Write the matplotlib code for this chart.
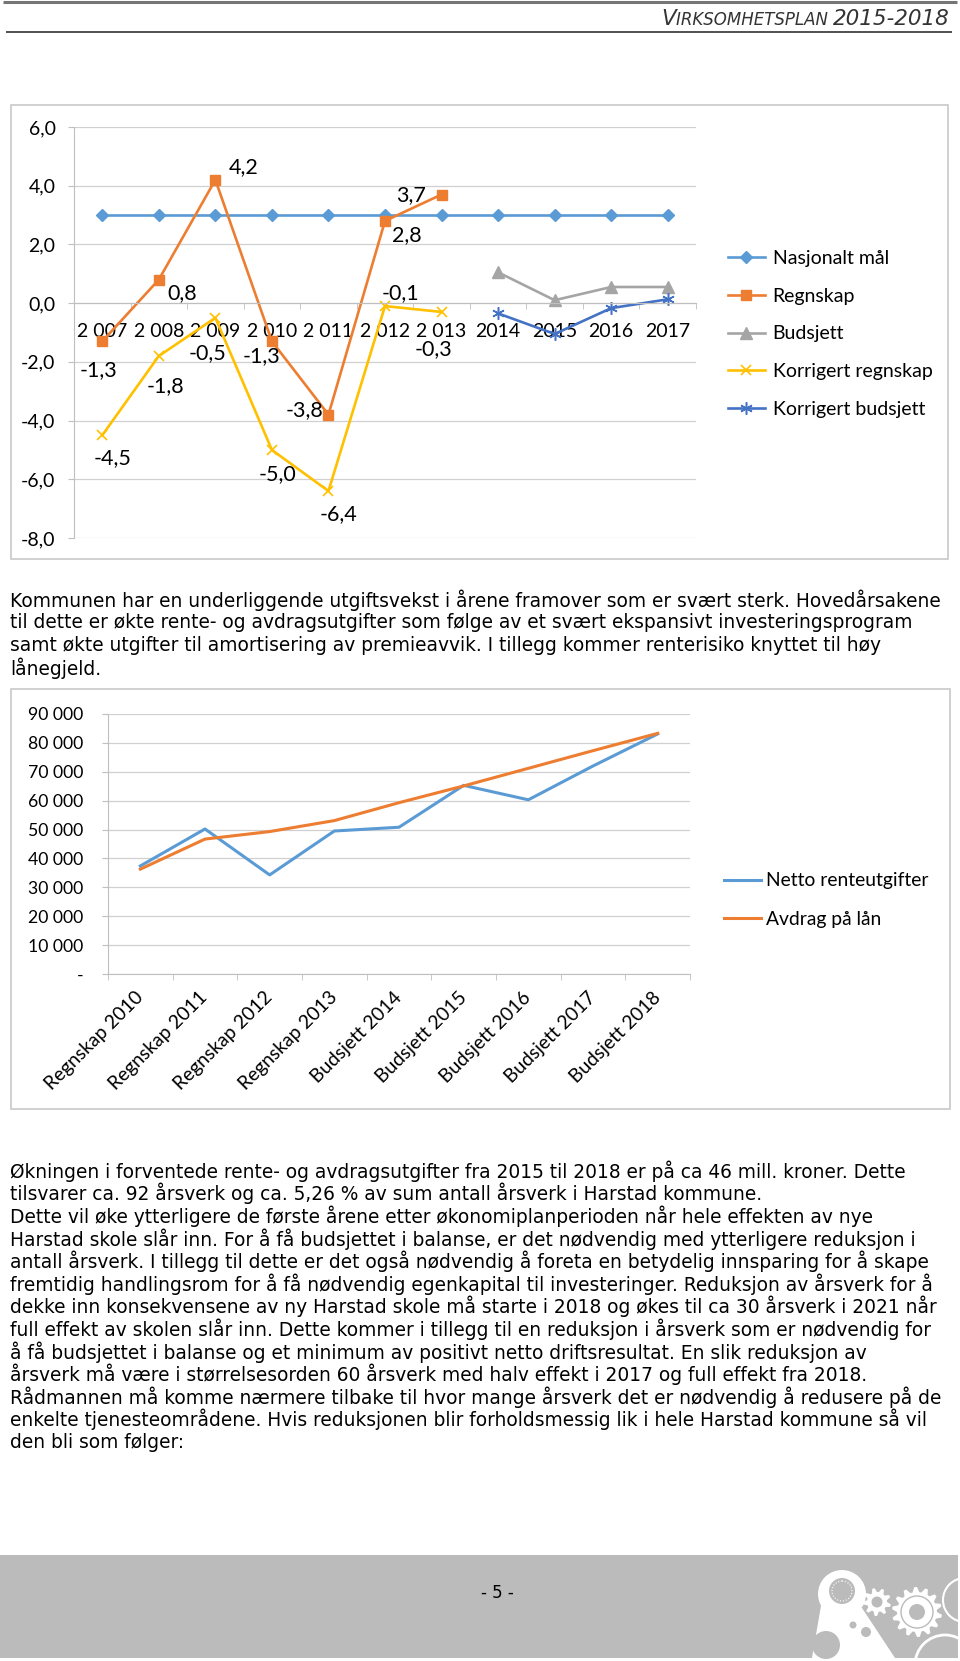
import numpy as np
import matplotlib.pyplot as plt
from matplotlib.patches import Rectangle, Circle, Polygon

nan = np.nan
W, H = 960, 1661

# --- top chart data ---
years = ["2 007", "2 008", "2 009", "2 010", "2 011", "2 012", "2 013",
         "2014", "2015", "2016", "2017"]
nasjonalt_maal = [3.0, 3.0, 3.0, 3.0, 3.0, 3.0, 3.0, 3.0, 3.0, 3.0, 3.0]
regnskap = [-1.3, 0.8, 4.2, -1.3, -3.8, 2.8, 3.7, nan, nan, nan, nan]
budsjett = [nan, nan, nan, nan, nan, nan, nan, 1.05, 0.1, 0.55, 0.55]
korr_regnskap = [-4.5, -1.8, -0.5, -5.0, -6.4, -0.1, -0.3, nan, nan, nan, nan]
korr_budsjett = [nan, nan, nan, nan, nan, nan, nan, -0.35, -1.05, -0.17, 0.13]
y1_ticks = [-8, -6, -4, -2, 0, 2, 4, 6]
y1_labels = ["-8,0", "-6,0", "-4,0", "-2,0", "0,0", "2,0", "4,0", "6,0"]

# --- bottom chart data ---
periods = ["Regnskap 2010", "Regnskap 2011", "Regnskap 2012", "Regnskap 2013",
           "Budsjett 2014", "Budsjett 2015", "Budsjett 2016", "Budsjett 2017",
           "Budsjett 2018"]
netto_renteutgifter = [37400, 50200, 34300, 49500, 50800, 65300, 60300, 72000, 83100]
avdrag_paa_laan = [36300, 46700, 49300, 53100, 59300, 65100, 71200, 77300, 83300]
y2_ticks = [0, 10000, 20000, 30000, 40000, 50000, 60000, 70000, 80000, 90000]
y2_labels = ["-", "10 000", "20 000", "30 000", "40 000", "50 000",
             "60 000", "70 000", "80 000", "90 000"]

para1 = [
    "Kommunen har en underliggende utgiftsvekst i årene framover som er svært sterk. Hovedårsakene",
    "til dette er økte rente- og avdragsutgifter som følge av et svært ekspansivt investeringsprogram",
    "samt økte utgifter til amortisering av premieavvik. I tillegg kommer renterisiko knyttet til høy",
    "lånegjeld.",
]
para2 = [
    "Økningen i forventede rente- og avdragsutgifter fra 2015 til 2018 er på ca 46 mill. kroner. Dette",
    "tilsvarer ca. 92 årsverk og ca. 5,26 % av sum antall årsverk i Harstad kommune.",
    "Dette vil øke ytterligere de første årene etter økonomiplanperioden når hele effekten av nye",
    "Harstad skole slår inn. For å få budsjettet i balanse, er det nødvendig med ytterligere reduksjon i",
    "antall årsverk. I tillegg til dette er det også nødvendig å foreta en betydelig innsparing for å skape",
    "fremtidig handlingsrom for å få nødvendig egenkapital til investeringer. Reduksjon av årsverk for å",
    "dekke inn konsekvensene av ny Harstad skole må starte i 2018 og økes til ca 30 årsverk i 2021 når",
    "full effekt av skolen slår inn. Dette kommer i tillegg til en reduksjon i årsverk som er nødvendig for",
    "å få budsjettet i balanse og et minimum av positivt netto driftsresultat. En slik reduksjon av",
    "årsverk må være i størrelsesorden 60 årsverk med halv effekt i 2017 og full effekt fra 2018.",
    "Rådmannen må komme nærmere tilbake til hvor mange årsverk det er nødvendig å redusere på de",
    "enkelte tjenesteområdene. Hvis reduksjonen blir forholdsmessig lik i hele Harstad kommune så vil",
    "den bli som følger:",
]

BLUE, ORANGE, GRAY, YELLOW, DBLUE = "#5B9BD5", "#ED7D31", "#A5A5A5", "#FFC000", "#4472C4"
GRID = "#D0D0D0"
AXC = "#BFBFBF"
CHART_FONT = "Lato"

fig = plt.figure(figsize=(W / 100, H / 100), dpi=100)

# page layer in pixel coordinates
page = fig.add_axes([0, 0, 1, 1], zorder=0)
page.set_xlim(0, W)
page.set_ylim(H, 0)
page.axis("off")


def place(left, top, right, bottom):
    return fig.add_axes([left / W, 1 - bottom / H, (right - left) / W, (bottom - top) / H],
                        zorder=2, facecolor="none")


# header
page.plot([3, 957], [2, 2], color="#767676", lw=2.2, solid_capstyle="butt")
page.plot([6, 952], [32, 32], color="#505050", lw=1.4, solid_capstyle="butt")
rend = fig.canvas.get_renderer()
xr = 950
for s, size in [("2015-2018", 15.5), ("IRKSOMHETSPLAN ", 12), ("V", 15.5)]:
    t = page.text(xr, 25, s, ha="right", va="baseline", fontsize=size,
                  style="italic", color="#333333", family="DejaVu Sans")
    xr -= t.get_window_extent(rend).width

# chart frames
page.add_patch(Rectangle((11, 105), 937, 454, fill=False, ec="#C8C8C8", lw=1.2))
page.add_patch(Rectangle((11, 689), 939, 420, fill=False, ec="#C8C8C8", lw=1.2))

# paragraphs
for i, line in enumerate(para1):
    page.text(10, 600 + i * 22.6, line, fontsize=13.4, va="center", family="DejaVu Sans")
for i, line in enumerate(para2):
    page.text(10, 1171 + i * 22.6, line, fontsize=13.4, va="center", family="DejaVu Sans")

# ---- top chart ----
ax1 = place(74, 127, 696, 538)
for s in ["top", "right"]:
    ax1.spines[s].set_visible(False)
ax1.spines["left"].set_color(AXC)
ax1.spines["bottom"].set_color(AXC)
ax1.spines["bottom"].set_position(("data", 0))

x = np.arange(len(years))
ax1.plot(x, nasjonalt_maal, color=BLUE, lw=1.9, marker="D", ms=6.5, label="Nasjonalt mål")
ax1.plot(x, regnskap, color=ORANGE, lw=1.9, marker="s", ms=7.5, label="Regnskap")
ax1.plot(x, budsjett, color=GRAY, lw=1.9, marker="^", ms=8, label="Budsjett")
ax1.plot(x, korr_regnskap, color=YELLOW, lw=1.9, marker="x", ms=7, mew=1.2,
         label="Korrigert regnskap")
ax1.plot(x, korr_budsjett, color=DBLUE, lw=1.9, marker=(6, 2, 0), ms=9, mew=1.1,
         label="Korrigert budsjett")

reg_off = [(-4, -29), (23, -13), (28, 13), (-10, -15), (-24, 5), (22, -14), (-30, -1)]
kor_off = [(10, -23), (7, -30), (-8, -35), (6, -24), (10, -23), (15, 13), (-8, -37)]
for i, off in enumerate(reg_off):
    ax1.annotate(f"{regnskap[i]:.1f}".replace(".", ","), (x[i], regnskap[i]), xytext=off,
                 textcoords="offset pixels", ha="center", va="center", fontsize=15.5,
                 family=CHART_FONT)
for i, off in enumerate(kor_off):
    ax1.annotate(f"{korr_regnskap[i]:.1f}".replace(".", ","), (x[i], korr_regnskap[i]),
                 xytext=off, textcoords="offset pixels", ha="center", va="center",
                 fontsize=15.5, family=CHART_FONT)

ax1.set_xlim(-0.5, len(years) - 0.5)
ax1.set_ylim(-8, 6)
ax1.set_yticks(y1_ticks, y1_labels, fontsize=14, family=CHART_FONT)
ax1.set_xticks(x, years, fontsize=14, family=CHART_FONT)
ax1.set_xticks(np.arange(-0.5, len(years), 1), minor=True)
ax1.yaxis.grid(True, color=GRID, lw=0.9)
ax1.set_axisbelow(True)
ax1.tick_params(axis="x", which="major", length=0, pad=14)
ax1.tick_params(axis="x", which="minor", length=4.5, color=AXC)
ax1.tick_params(axis="y", length=4.3, color=AXC, pad=9)
ax1.legend(loc="center left", bbox_to_anchor=(728 / W, 1 - 334 / H),
           bbox_transform=fig.transFigure, frameon=False,
           prop={"family": CHART_FONT, "size": 14}, handlelength=1.9,
           handletextpad=0.4, labelspacing=1.06, borderpad=0, borderaxespad=0,
           numpoints=1)

# ---- bottom chart ----
ax2 = place(108, 714, 690, 974)
for s in ["top", "right"]:
    ax2.spines[s].set_visible(False)
ax2.spines["left"].set_color(AXC)
ax2.spines["bottom"].set_color(AXC)

x2 = np.arange(len(periods))
ax2.plot(x2, netto_renteutgifter, color=BLUE, lw=2.2, label="Netto renteutgifter")
ax2.plot(x2, avdrag_paa_laan, color=ORANGE, lw=2.2, label="Avdrag på lån")
ax2.set_xlim(-0.5, len(periods) - 0.5)
ax2.set_ylim(0, 90000)
ax2.set_yticks(y2_ticks, y2_labels, fontsize=12.7, family=CHART_FONT)
ax2.set_xticks(x2, periods, fontsize=13.9, family=CHART_FONT, rotation=45,
               ha="right", va="center", rotation_mode="anchor")
ax2.set_xticks(np.arange(-0.5, len(periods), 1), minor=True)
ax2.yaxis.grid(True, color=GRID, lw=0.9)
ax2.set_axisbelow(True)
ax2.tick_params(axis="x", which="major", length=0, pad=15)
ax2.tick_params(axis="x", which="minor", length=4.5, color=AXC)
ax2.tick_params(axis="y", length=4.3, color=AXC, pad=13.5)
ax2.legend(loc="center left", bbox_to_anchor=(724 / W, 1 - 900 / H),
           bbox_transform=fig.transFigure, frameon=False,
           prop={"family": CHART_FONT, "size": 13.9}, handlelength=1.9,
           handletextpad=0.3, labelspacing=1.1, borderpad=0, borderaxespad=0)

# ---- footer ----
BAND = "#BBBBBB"
page.add_patch(Rectangle((0, 1555), 958, 103, color=BAND, lw=0))
page.text(497, 1593, "- 5 -", ha="center", va="center", fontsize=12, family="DejaVu Sans")


def gear(cx, cy, r_in, r_out, teeth):
    n = teeth * 4
    ang = np.linspace(0, 2 * np.pi, n, endpoint=False)
    rad = np.tile([r_in, r_out, r_out, r_in], teeth)
    return np.column_stack([cx + rad * np.cos(ang), cy + rad * np.sin(ang)])


# decorative logo, page pixel coordinates
page.add_patch(Polygon([[822, 1600], [862, 1608], [895, 1658], [812, 1658]],
                       color="white", lw=0))
page.add_patch(Circle((842, 1594), 24, color="white", lw=0))
page.add_patch(Circle((842, 1591), 13, color=BAND, lw=0))
page.add_patch(Circle((842, 1591), 10, fill=False, ec="white", lw=0.8, ls=":"))
page.add_patch(Circle((826, 1645), 14, color=BAND, lw=0))
page.add_patch(Polygon(gear(917, 1612, 20, 25, 14), color="white", lw=0))
page.add_patch(Circle((917, 1612), 16, fill=False, ec=BAND, lw=1))
page.add_patch(Circle((917, 1612), 8, color=BAND, lw=0))
page.add_patch(Polygon(gear(877, 1602, 10, 14, 9), color="white", lw=0))
page.add_patch(Circle((877, 1602), 5.5, color=BAND, lw=0))
page.add_patch(Circle((853, 1625), 3.5, color=BAND, lw=0))
page.add_patch(Circle((866, 1632), 5, color=BAND, lw=0))
page.add_patch(Circle((945, 1665), 30, fill=False, ec="white", lw=2))
page.add_patch(Circle((965, 1600), 22, fill=False, ec="white", lw=1.5))

fig.savefig("out.png", dpi=100, facecolor="white")
